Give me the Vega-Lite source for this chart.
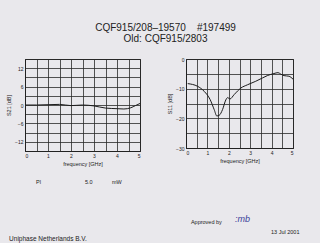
{
  "$schema": "https://vega.github.io/schema/vega-lite/v6.json",
  "background": "#e9e8ec",
  "padding": {"left": 6, "top": 22, "right": 0, "bottom": 0},
  "title": {
    "text": ["CQF915/208–19570\u00a0\u00a0\u00a0\u00a0#197499", "Old: CQF915/2803"],
    "font": "Liberation Sans", "fontSize": 10, "fontWeight": "normal",
    "color": "#222222", "anchor": "middle", "offset": 13, "lineHeight": 11
  },
  "datasets": {
    "s21": [
      {"f": 0.0, "dB": 0.0}, {"f": 0.5, "dB": 0.0}, {"f": 1.0, "dB": 0.1},
      {"f": 1.5, "dB": 0.2}, {"f": 2.0, "dB": -0.2}, {"f": 2.5, "dB": 0.0},
      {"f": 3.0, "dB": -0.3}, {"f": 3.5, "dB": -1.0}, {"f": 4.0, "dB": -1.2},
      {"f": 4.3, "dB": -1.3}, {"f": 4.6, "dB": -0.9}, {"f": 4.8, "dB": -0.2},
      {"f": 5.0, "dB": 0.5}
    ],
    "s11": [
      {"f": 0.08, "dB": -8.3}, {"f": 0.54, "dB": -9.2}, {"f": 0.85, "dB": -10.9},
      {"f": 1.13, "dB": -13.7}, {"f": 1.32, "dB": -17.1}, {"f": 1.44, "dB": -19.2},
      {"f": 1.55, "dB": -19.0}, {"f": 1.71, "dB": -17.0}, {"f": 1.86, "dB": -13.8},
      {"f": 1.95, "dB": -13.0}, {"f": 2.05, "dB": -13.5}, {"f": 2.25, "dB": -12.0},
      {"f": 2.56, "dB": -9.8}, {"f": 2.87, "dB": -8.7}, {"f": 3.26, "dB": -7.5},
      {"f": 3.57, "dB": -6.4}, {"f": 3.8, "dB": -5.6}, {"f": 4.11, "dB": -4.9},
      {"f": 4.3, "dB": -4.6}, {"f": 4.43, "dB": -5.1}, {"f": 4.58, "dB": -5.6},
      {"f": 4.81, "dB": -5.8}, {"f": 5.0, "dB": -6.8}
    ],
    "notes": [
      {"text": "Pl", "px": 0.037, "py": 0.157, "kind": "print"},
      {"text": "5.0", "px": 0.2, "py": 0.157, "kind": "print"},
      {"text": "mW", "px": 0.29, "py": 0.157, "kind": "print"},
      {"text": "Approved by", "px": 0.553, "py": 0.73, "kind": "print"},
      {"text": "13 Jul 2001", "px": 0.82, "py": 0.87, "kind": "print"},
      {"text": "Uniphase Netherlands B.V.", "px": -0.053, "py": 0.97, "kind": "footer"},
      {"text": ":mb", "px": 0.70, "py": 0.68, "kind": "hand"}
    ]
  },
  "config": {
    "font": "Liberation Sans",
    "view": {"stroke": "#222222", "strokeWidth": 1},
    "axis": {
      "ticks": false, "labelFontSize": 5, "labelColor": "#222222", "labelPadding": 2,
      "titleFontSize": 5.5, "titleFontWeight": "normal", "titleColor": "#222222", "titlePadding": 3,
      "grid": true, "gridColor": "#2a2a2a", "gridOpacity": 1, "gridWidth": 0.8,
      "domainColor": "#222222"
    }
  },
  "spacing": 4,
  "vconcat": [
    {
      "hconcat": [
        {
          "width": 115, "height": 92,
          "data": {"name": "s21"},
          "mark": {"type": "line", "color": "#1c1c1c", "strokeWidth": 1, "interpolate": "monotone"},
          "encoding": {
            "x": {"field": "f", "type": "quantitative",
              "scale": {"domain": [0, 5], "nice": false},
              "axis": {"title": "frequency [GHz]", "values": [0, 0.5, 1, 1.5, 2, 2.5, 3, 3.5, 4, 4.5, 5],
                "labelExpr": "datum.value % 1 === 0 ? format(datum.value, 'd') : ''"}},
            "y": {"field": "dB", "type": "quantitative",
              "scale": {"domain": [-15, 15], "nice": false},
              "axis": {"title": "S21 [dB]", "values": [-15, -12, -9, -6, -3, 0, 3, 6, 9, 12, 15],
                "labelExpr": "datum.value % 6 === 0 && abs(datum.value) < 15 ? datum.label : ''"}}
          }
        },
        {
          "width": 107, "height": 89,
          "data": {"name": "s11"},
          "mark": {"type": "line", "color": "#1c1c1c", "strokeWidth": 1, "interpolate": "monotone"},
          "encoding": {
            "x": {"field": "f", "type": "quantitative",
              "scale": {"domain": [0, 5], "nice": false},
              "axis": {"title": "frequency [GHz]", "values": [0, 0.5, 1, 1.5, 2, 2.5, 3, 3.5, 4, 4.5, 5],
                "labelExpr": "datum.value % 1 === 0 ? format(datum.value, 'd') : ''"}},
            "y": {"field": "dB", "type": "quantitative",
              "scale": {"domain": [-30, 0], "nice": false},
              "axis": {"title": "S11 [dB]", "values": [-30, -25, -20, -15, -10, -5, 0],
                "labelExpr": "datum.value % 10 === 0 ? datum.label : ''"}}
          }
        }
      ],
      "spacing": 24
    },
    {
      "width": 300, "height": 70,
      "view": {"stroke": null},
      "data": {"name": "notes"},
      "encoding": {
        "x": {"field": "px", "type": "quantitative", "scale": {"domain": [0, 1]}, "axis": null},
        "y": {"field": "py", "type": "quantitative", "scale": {"domain": [0, 1], "reverse": true}, "axis": null},
        "text": {"field": "text"}
      },
      "layer": [
        {"transform": [{"filter": "datum.kind === 'print'"}],
          "mark": {"type": "text", "align": "left", "baseline": "middle", "fontSize": 5.5, "color": "#222222"}},
        {"transform": [{"filter": "datum.kind === 'footer'"}],
          "mark": {"type": "text", "align": "left", "baseline": "middle", "fontSize": 6.5, "color": "#222222"}},
        {"transform": [{"filter": "datum.kind === 'hand'"}],
          "mark": {"type": "text", "align": "left", "baseline": "middle", "fontSize": 9, "fontStyle": "italic", "color": "#3b3f9a"}}
      ]
    }
  ]
}
